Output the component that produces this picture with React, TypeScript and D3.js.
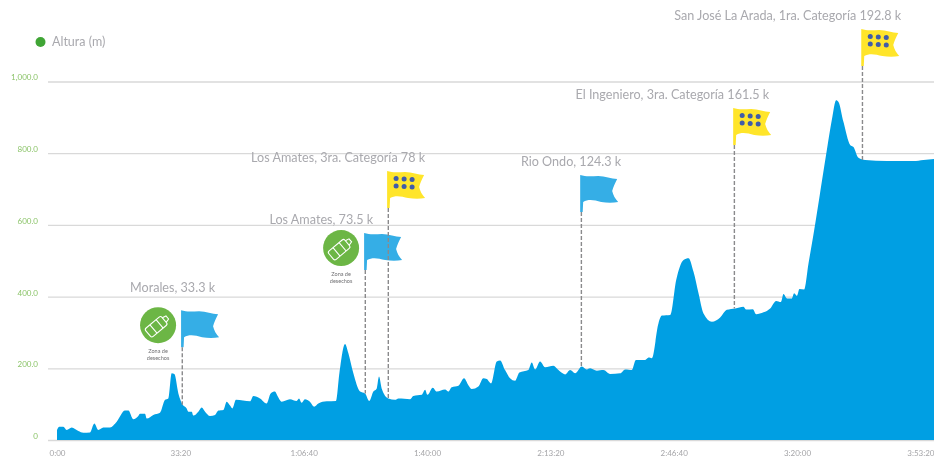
import React, { useEffect, useRef } from 'react';
import * as d3 from 'd3';

// elevation profile: seconds since the start, altitude in metres
const times = [
  0, 37, 102, 157, 238, 346, 427, 535, 605, 670, 751, 860, 968, 1103, 1157, 1238, 1319, 1346, 1427, 1455,
  1562, 1670, 1752, 1805, 1860, 1903, 1968, 2039, 2103, 2130, 2185, 2211, 2292, 2347, 2401, 2482, 2563, 2617, 2698, 2752,
  2806, 2843, 2903, 3130, 3184, 3292, 3400, 3465, 3535, 3572, 3643, 3778, 3886, 3924, 3967, 4021, 4102, 4169, 4238, 4374,
  4525, 4579, 4671, 4725, 4806, 4914, 4995, 5065, 5130, 5185, 5222, 5265, 5373, 5482, 5536, 5726, 5779, 5916, 5969, 6007,
  6094, 6158, 6293, 6347, 6401, 6509, 6601, 6671, 6726, 6833, 6914, 6969, 7039, 7131, 7185, 7266, 7347, 7428, 7498, 7644,
  7699, 7753, 7834, 7915, 8050, 8131, 8240, 8321, 8402, 8510, 8591, 8645, 8754, 8861, 8970, 9132, 9213, 9322, 9387, 9538,
  9592, 9646, 9754, 9809, 9944, 10041, 10160, 10241, 10322, 10403, 10484, 10620, 10754, 10863, 10998, 11132, 11176, 11284, 11338, 11457,
  11565, 11662, 11739, 11781, 11836, 11917, 11954, 11998, 12040, 12117, 12187, 12279, 12484, 12565, 12635, 12673, 12754, 12862, 12916, 12997,
  13105, 13457, 13889, 14051, 14224,
];
const altitudes = [
  28, 37, 37, 28, 35, 25, 20, 21, 46, 28, 35, 35, 51, 82, 82, 58, 67, 73, 73, 60,
  70, 76, 112, 116, 186, 184, 130, 98, 88, 79, 79, 68, 79, 91, 79, 67, 70, 82, 84, 107,
  96, 88, 112, 108, 123, 116, 102, 130, 135, 124, 107, 114, 109, 116, 104, 114, 107, 93, 102, 108,
  109, 186, 268, 242, 186, 135, 130, 109, 135, 144, 177, 144, 116, 112, 116, 114, 123, 126, 140, 126,
  146, 135, 141, 135, 147, 151, 172, 153, 142, 149, 172, 170, 158, 219, 222, 195, 172, 165, 188, 195,
  216, 197, 219, 203, 207, 195, 183, 195, 186, 205, 197, 200, 193, 195, 184, 186, 197, 195, 223, 223,
  230, 228, 326, 347, 349, 446, 502, 507, 469, 409, 353, 330, 342, 363, 367, 372, 364, 365, 351, 356,
  367, 388, 385, 407, 395, 395, 409, 402, 421, 420, 493, 586, 809, 893, 948, 943, 887, 823, 817, 787,
  781, 778, 778, 781, 784,
];

const xTicks = [0, 2000, 4000, 6000, 8000, 10000, 12000, 14000];
const yTicks = [0, 200, 400, 600, 800, 1000];
const legendLabel = 'Altura (m)';

// flags along the route
const flagLabels = [
  'Morales, 33.3 k',
  'Los Amates, 73.5 k',
  'Los Amates, 3ra. Categoría 78 k',
  'Rio Ondo, 124.3 k',
  'El Ingeniero, 3ra. Categoría 161.5 k',
  'San José La Arada, 1ra. Categoría 192.8 k',
];
const flagTimes = [2012, 4980, 5353, 8484, 10965, 13042];
const flagAltitudes = [259, 474, 647, 636, 823, 1043];
const flagKinds = ['hydration', 'hydration', 'climb', 'hydration', 'climb', 'climb'];
const wasteZones = [0, 1]; // flags that also have a "Zona de desechos" badge

const labelDx = [34, 9, 38, 41, 36, 40];
const labelDy = [-55, -46, -46, -46, -46, -46];

const flagPath =
  'M0,-37 C6,-35 12,-36 18,-36 C25,-36 31,-33 37,-33 C35,-29 33,-25 32,-21 C33,-17 35,-13 38,-10 ' +
  'C33,-9 27,-9 21,-10 C14,-12 8,-13 3,-10 L2.5,0 L0,0 Z';

function formatTime(s: number) {
  const h = Math.floor(s / 3600);
  const m = Math.floor((s % 3600) / 60);
  const sec = s % 60;
  const pad = d3.format('02');
  if (h === 0 && m === 0) return '0:00';
  if (h === 0) return m + ':' + pad(sec);
  return h + ':' + pad(m) + ':' + pad(sec);
}

export default function App() {
  const ref = useRef<SVGSVGElement>(null);

  useEffect(() => {
    const width = 934, height = 458;
    const root = d3.select(ref.current);
    root.selectAll('*').remove();

    // the reference is a soft, low resolution export
    root.append('defs').append('filter').attr('id', 'soft')
      .attr('x', 0).attr('y', 0).attr('width', 1).attr('height', 1)
      .attr('filterUnits', 'objectBoundingBox')
      .append('feGaussianBlur').attr('stdDeviation', 0.6);

    const svg = root.append('g').attr('filter', 'url(#soft)');
    svg.append('rect').attr('width', width).attr('height', height).attr('fill', '#fff');

    const x = d3.scaleLinear().domain([0, 12000]).range([57, 797]);
    const y = d3.scaleLinear().domain([0, 1000]).range([440, 81.5]);

    // Y axis with the gridlines
    const yAxis = svg.append('g')
      .attr('transform', 'translate(48,0)')
      .call(d3.axisLeft(y).tickValues(yTicks).tickSize(0)
        .tickFormat((d: any) => (d === 0 ? '0' : d3.format(',.1f')(d))));
    yAxis.select('.domain').remove();
    yAxis.selectAll('text')
      .attr('x', -10).attr('dy', '-0.2em')
      .style('font-family', 'Lato').style('font-size', '8px').style('fill', '#8cc46a');
    yAxis.selectAll('.tick').append('line')
      .attr('x1', 0).attr('x2', width).attr('stroke', '#d9d9d9').attr('stroke-width', 1.3);

    // Area
    const area = d3.area<number>()
      .x((d, i) => x(times[i]))
      .y0(y(0))
      .y1((d) => y(d))
      .curve(d3.curveMonotoneX);
    svg.append('path').attr('d', area(altitudes)).attr('fill', '#009fe3');

    // X axis, kept just inside the bottom edge
    const xAxis = svg.append('g')
      .attr('transform', 'translate(0,440)')
      .call(d3.axisBottom(x).tickValues(xTicks).tickSize(0).tickFormat((d: any) => formatTime(d)));
    xAxis.select('.domain').remove();
    xAxis.selectAll('text')
      .attr('y', 10)
      .style('font-family', 'Lato').style('font-size', '8px').style('fill', '#a5a5a8');

    // Legend
    svg.append('circle').attr('cx', 40.5).attr('cy', 42).attr('r', 5).attr('fill', '#3fa535');
    svg.append('text').attr('x', 52).attr('y', 46)
      .style('font-family', 'Lato').style('font-size', '12.5px').style('fill', '#a9a9ae')
      .text(legendLabel);

    // Flags
    const bisect = d3.bisector((t: number) => t).left;
    flagLabels.forEach((label, i) => {
      const px = x(flagTimes[i]);
      const py = y(flagAltitudes[i]);
      const climb = flagKinds[i] === 'climb';
      const g = svg.append('g').attr('transform', `translate(${px},${py})`);
      g.append('path').attr('d', flagPath).attr('fill', climb ? '#ffe52c' : '#35aee6');
      if (climb) {
        d3.range(6).forEach((k) => {
          g.append('circle')
            .attr('cx', 9 + (k % 3) * 8)
            .attr('cy', -29.5 + Math.floor(k / 3) * 7.5 + (k % 3) * 0.5)
            .attr('r', 2.5).attr('fill', '#3f5ba9');
        });
      }
      svg.append('text')
        .attr('x', px + labelDx[i]).attr('y', py + labelDy[i])
        .attr('text-anchor', 'end')
        .style('font-family', 'Lato').style('font-size', '12.6px').style('fill', '#a9a9ae')
        .text(label);
      // dashed line down to the profile
      const alt = altitudes[Math.min(bisect(times, flagTimes[i]), times.length - 1)];
      svg.append('line')
        .attr('x1', px + 1.2).attr('x2', px + 1.2)
        .attr('y1', py).attr('y2', y(alt))
        .attr('stroke', '#8a8a8c').attr('stroke-width', 1.4).attr('stroke-dasharray', '4 2');
    });

    // Waste zone badges, a bottle on a green circle
    wasteZones.forEach((i) => {
      const cx = x(flagTimes[i]) - 23;
      const cy = y(flagAltitudes[i]) - 22;
      const g = svg.append('g').attr('transform', `translate(${cx},${cy})`);
      g.append('circle').attr('r', 18).attr('fill', '#6cb644');
      const b = g.append('g').attr('transform', 'rotate(50)')
        .attr('fill', 'none').attr('stroke', '#fff').attr('stroke-width', 1.1);
      b.append('rect').attr('x', -5.5).attr('y', -8).attr('width', 11).attr('height', 21).attr('rx', 2);
      b.append('path').attr('d', 'M-3,-8 L-2,-12 L2,-12 L3,-8 M-5.5,-2 L5.5,-2 M-5.5,6 L5.5,6');
      g.selectAll('text.zona').data(['Zona de', 'desechos']).enter().append('text')
        .attr('y', (d, k) => 28 + k * 7)
        .attr('text-anchor', 'middle')
        .style('font-family', 'Lato').style('font-size', '5.5px').style('fill', '#6f6f72')
        .text((d) => d);
    });
  }, []);

  return <svg ref={ref} width={934} height={458} style={{ position: 'absolute', left: 0, top: 0 }} />;
}
